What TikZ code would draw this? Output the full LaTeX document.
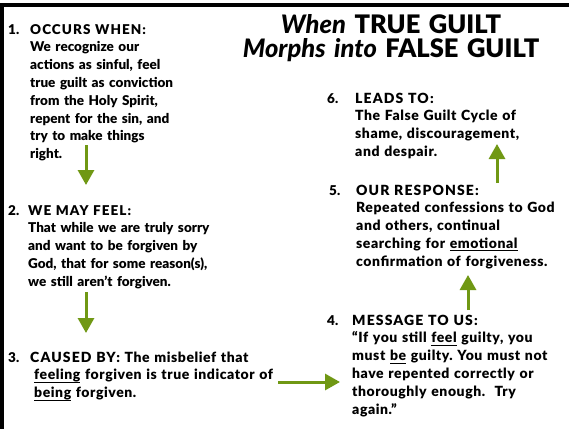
\documentclass[tikz,border=0pt]{standalone}
\usepackage{fontspec}
\setmainfont{Lato}[BoldFont={Lato Black}, BoldItalicFont={Lato Black Italic}]
\usepackage{xcolor}
\usepackage{tikz}
\usetikzlibrary{positioning, arrows.meta, calc}
\definecolor{arrowgreen}{RGB}{112,152,20}
\pgfdeclareradialshading{vignette}{\pgfpoint{0bp}{0bp}}{color(0bp)=(white); color(35bp)=(white); color(71bp)=(black!14)}
\newcommand{\caphead}[1]{{\addfontfeature{LetterSpace=8}#1}}
\newsavebox{\ulwordbox}
\newcommand{\ulword}[1]{\sbox{\ulwordbox}{#1}\rlap{\rule[-2.6pt]{\wd\ulwordbox}{0.9pt}}\usebox{\ulwordbox}}
\frenchspacing
\tikzset{
  itemnum/.style={
    anchor=base west,
    inner sep=0pt,
    font=\bfseries\fontsize{13.5}{17.8}\selectfont
  },
  itembody/.style={
    anchor=base west,
    inner sep=0pt,
    text width=250pt,
    align=left,
    font=\bfseries\fontsize{13.5}{17.8}\selectfont
  },
  itemwide/.style={
    itembody,
    font=\bfseries\fontsize{14}{17.9}\selectfont\addfontfeature{LetterSpace=4}
  },
  titletext/.style={
    anchor=base,
    inner sep=0pt,
    text width=360pt,
    align=center,
    font=\bfseries\fontsize{25.5}{24}\selectfont
  },
  greenarrow/.style={
    draw=arrowgreen,
    line width=3pt,
    -{Triangle[width=16pt,length=15pt,fill=arrowgreen]}
  }
}

\begin{document}
\begin{tikzpicture}[x=1pt, y=-1pt]
  \useasboundingbox (0,0) rectangle (569,429);
  \shade[shading=vignette] (0,0) rectangle (569,429);
  % slide frame
  \draw[line width=4pt] (0,5.3) -- (569,5.3);
  \draw[line width=4pt] (2,3.3) -- (2,429);

  \node[titletext] (title) at (391,33)
    {\textit{When} TRUE GUILT\\\textit{Morphs into} FALSE GUILT};

  \node[itemnum] (n1) at (8,34) {1.};
  \node[itembody] (s1) at (30,34) {\caphead{OCCURS WHEN:}\\We recognize our\\actions as sinful, feel\\true guilt as conviction\\from the Holy Spirit,\\repent for the sin, and\\try to make things\\right.};

  \node[itemnum] (n2) at (8,215) {2.};
  \node[itembody] (s2) at (28,215) {\caphead{WE MAY FEEL:}\\That while we are truly sorry\\and want to be forgiven by\\God, that for some reason(s),\\we still aren’t forgiven.};

  \node[itemnum] (n3) at (8,362) {3.};
  \node[itemwide] (s3) at (30,362) {\caphead{CAUSED BY:} The misbelief that\\\hspace*{4pt}\ulword{feeling} forgiven is true indicator of\\\hspace*{4pt}\ulword{being} forgiven.};

  \node[itemnum] (n4) at (327,325) {4.};
  \node[itemwide] (s4) at (352,325) {\caphead{MESSAGE TO US:}\\“If you still \ulword{feel} guilty, you\\must \ulword{be} guilty. You must not\\have repented correctly or\\thoroughly enough.\ \ Try\\again.”};

  \node[itemnum] (n5) at (329,195) {5.};
  \node[itemwide] (s5) at (356,195) {\caphead{OUR RESPONSE:}\\Repeated confessions to God\\and others, continual\\searching for \ulword{emotional}\\confirmation of forgiveness.};

  \node[itemnum] (n6) at (327,103) {6.};
  \node[itemwide] (s6) at (355,103) {\caphead{LEADS TO:}\\The False Guilt Cycle of\\shame, discouragement,\\and despair.};

  % arrow ends
  \coordinate (a1top) at (86,145);
  \coordinate (a1end) at (86,185);
  \coordinate (a2top) at (86,292);
  \coordinate (a2end) at (86,333);
  \coordinate (a3start) at (278,382);
  \coordinate (a3end) at (340,382);
  \coordinate (a4start) at (468,310);
  \coordinate (a4end) at (468,275);
  \coordinate (a5start) at (497,183);
  \coordinate (a5end) at (497,144);

  \draw[greenarrow] (a1top) -- (a1end);
  \draw[greenarrow] (a2top) -- (a2end);
  \draw[greenarrow] (a3start) -- (a3end);
  \draw[greenarrow] (a4start) -- (a4end);
  \draw[greenarrow] (a5start) -- (a5end);
\end{tikzpicture}
\end{document}
